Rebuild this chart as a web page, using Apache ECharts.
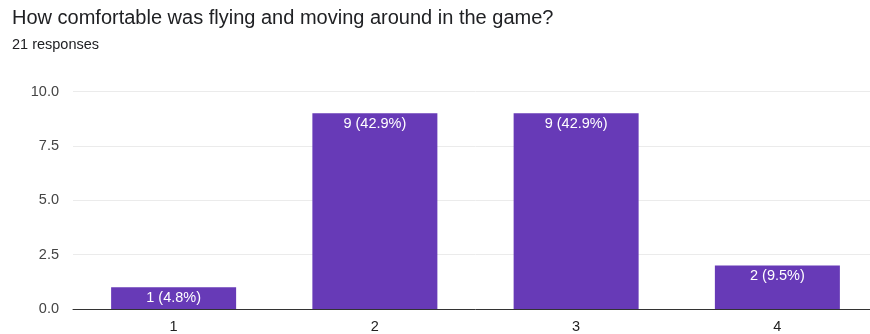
<!DOCTYPE html>
<html><head><meta charset="utf-8">
<script src="https://cdn.jsdelivr.net/npm/echarts@6/dist/echarts.min.js"></script>
<style>html,body{margin:0;padding:0;background:#fff;overflow:hidden;width:870px;height:334px}#c{width:878px;height:334px}</style>
</head><body><div id="c"></div>
<script>
const categories = ['1', '2', '3', '4'];
const counts = [1, 9, 9, 2];
const percents = ['4.8%', '42.9%', '42.9%', '9.5%'];
const yTicks = [0, 2.5, 5, 7.5, 10];
const titleText = 'How comfortable was flying and moving around in the game?';
const subText = '21 responses';

const chart = echarts.init(document.getElementById('c'));
chart.setOption({
  animation: false,
  textStyle: { fontFamily: 'Liberation Sans' },
  title: {
    text: titleText, subtext: subText, left: 7, top: 3,
    textStyle: { fontSize: 20, fontWeight: 'normal', color: '#202124', fontFamily: 'Liberation Sans' },
    subtextStyle: { fontSize: 14.5, color: '#202124', fontFamily: 'Liberation Sans' },
    itemGap: 9
  },
  grid: { left: 73, top: 91.5, right: 0, height: 218.5, containLabel: false },
  xAxis: {
    type: 'category', data: categories,
    axisLine: { lineStyle: { color: '#333', width: 1 } },
    axisTick: { show: false },
    axisLabel: { color: '#222', fontSize: 14.5, margin: 10 }
  },
  yAxis: {
    type: 'value', min: 0, max: 10, interval: 2.5,
    axisLine: { show: false }, axisTick: { show: false },
    axisLabel: { color: '#444', fontSize: 14.5, margin: 14, formatter: v => v.toFixed(1) },
    splitLine: { lineStyle: { color: '#ebebeb', width: 1 } }
  },
  series: [{
    type: 'bar', data: counts, barWidth: 125,
    itemStyle: { color: '#673AB7' },
    label: {
      show: true, position: 'insideTop', distance: 3, color: '#fff', fontSize: 14.5,
      formatter: p => counts[p.dataIndex] + ' (' + percents[p.dataIndex] + ')'
    }
  }]
});
</script></body></html>
